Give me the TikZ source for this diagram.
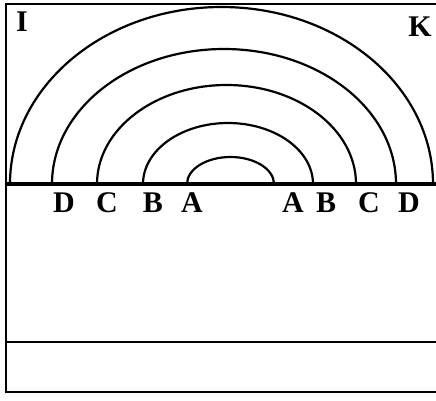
\documentclass[tikz,border=0pt]{standalone}
\usepackage{fontspec}
\setmainfont{Liberation Serif}
\usetikzlibrary{positioning}
\tikzset{
  frame/.style={line width=1.8pt, black},
  ground/.style={line width=4pt, black},
  ring/.style={line width=2.2pt, black},
  lbl/.style={font=\fontsize{30}{30}\selectfont\bfseries, inner sep=0pt},
}
\begin{document}
\begin{tikzpicture}[x=1pt, y=1pt]
    \useasboundingbox (0,0) rectangle (436,400);
    % frame, open to the right
    \draw[frame] (436,396) -- (6,396) -- (6,8) -- (436,8);
    \draw[frame] (6,58) -- (436,58);

    % rings: centre x / x radius / y radius
    \foreach \cx/\rx/\ry in {221.5/211.5/177, 224/172/135, 226.5/129.5/99, 228/85/61, 230.5/43.5/27} {
      \draw[ring] (\cx-\rx,216) arc[start angle=180, end angle=0, x radius=\rx pt, y radius=\ry pt];
    }
    \draw[ground] (7,216) -- (436,216);

    \node[lbl] (i) at (22,378) {I};
    \node[lbl] (k) at (420,373) {K};

    \node[lbl] (dl) at (64,197) {D};
    \node[lbl] (cl) at (107,197) {C};
    \node[lbl] (bl) at (153,197) {B};
    \node[lbl] (al) at (192,197) {A};
    \node[lbl] (ar) at (293,197) {A};
    \node[lbl] (br) at (326,197) {B};
    \node[lbl] (cr) at (369,197) {C};
    \node[lbl] (dr) at (409,197) {D};
\end{tikzpicture}
\end{document}
